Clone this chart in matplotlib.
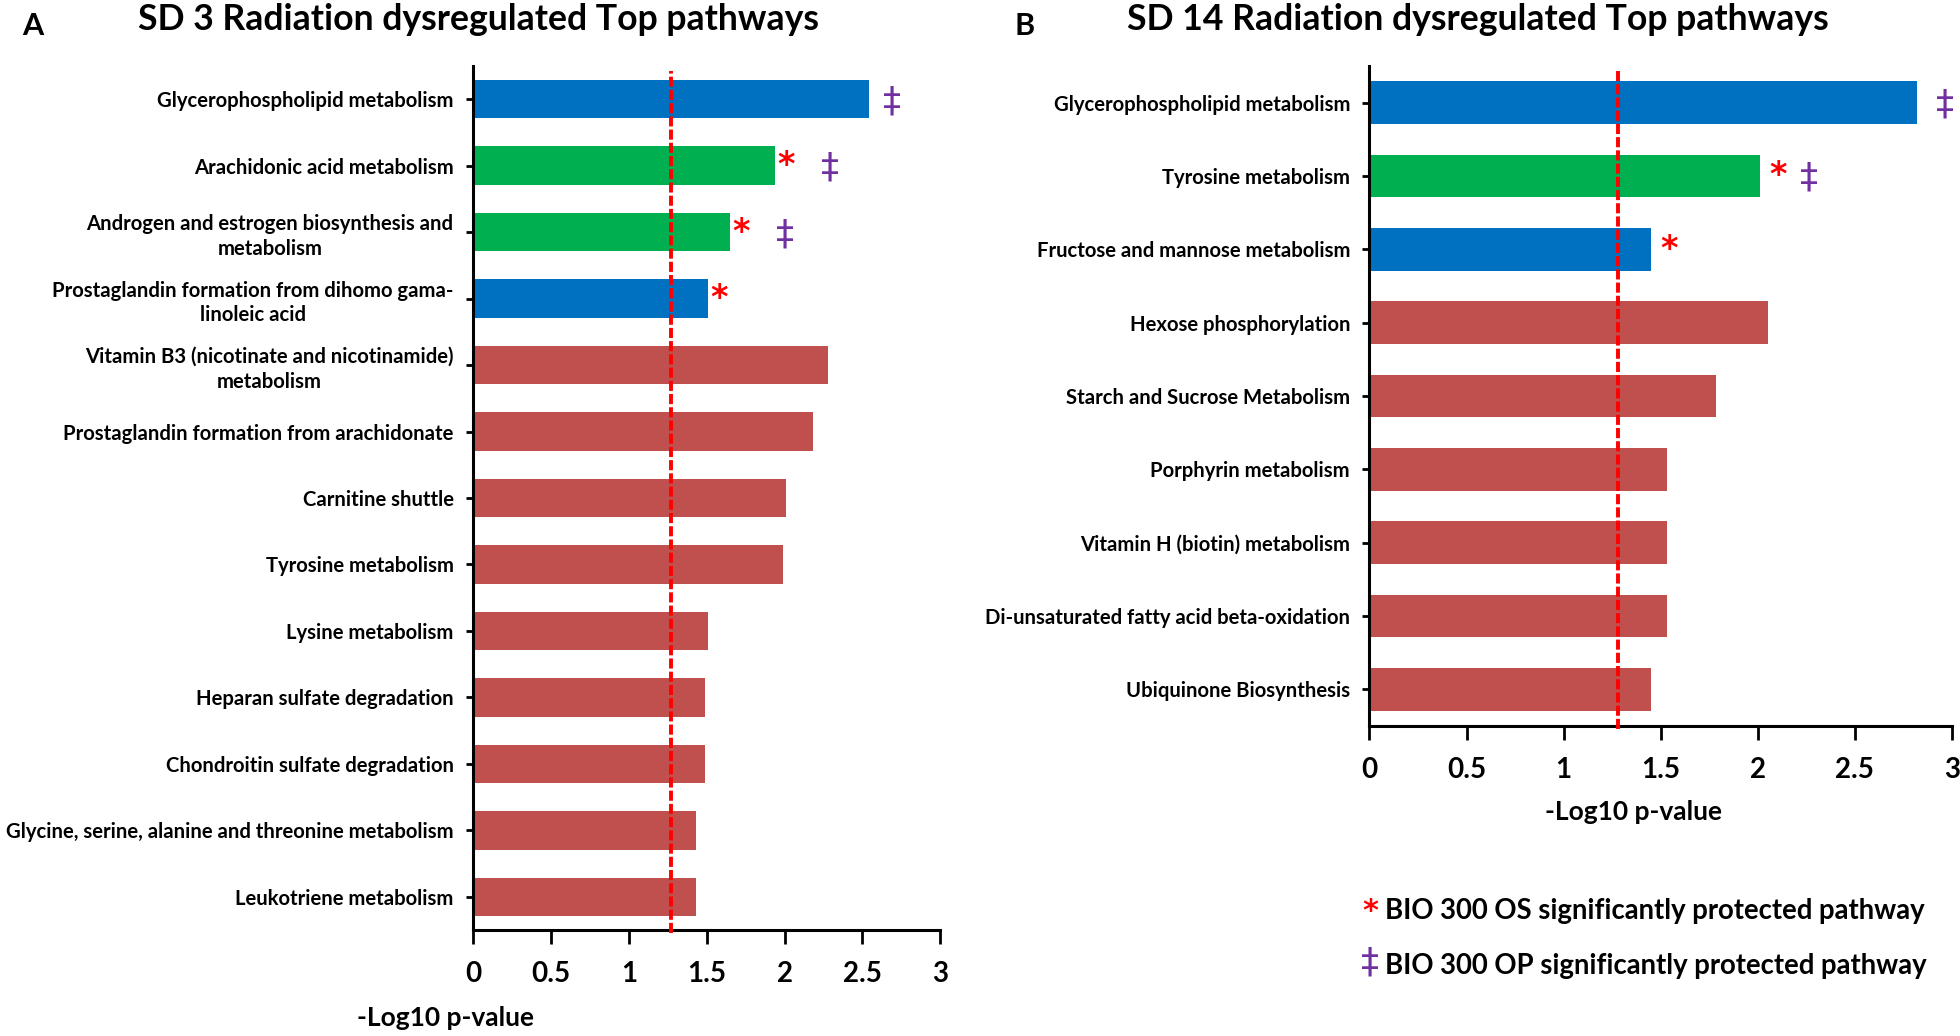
import numpy as np
import matplotlib
matplotlib.use('Agg')
import matplotlib.pyplot as plt

plt.rcParams['font.family'] = ['Lato', 'DejaVu Sans']
plt.rcParams['font.weight'] = 'bold'
plt.rcParams['axes.labelweight'] = 'bold'

# panel A: SD 3
sd3_pathways = ['Glycerophospholipid metabolism',
                'Arachidonic acid metabolism',
                'Androgen and estrogen biosynthesis and\nmetabolism',
                'Prostaglandin formation from dihomo gama-\nlinoleic acid',
                'Vitamin B3 (nicotinate and nicotinamide)\nmetabolism',
                'Prostaglandin formation from arachidonate',
                'Carnitine shuttle',
                'Tyrosine metabolism',
                'Lysine metabolism',
                'Heparan sulfate degradation',
                'Chondroitin sulfate degradation',
                'Glycine, serine, alanine and threonine metabolism',
                'Leukotriene metabolism']
sd3_values = [2.54, 1.94, 1.65, 1.51, 2.28, 2.18, 2.01, 1.99, 1.51, 1.49, 1.49, 1.43, 1.43]
sd3_os = [0, 1, 1, 1, 0, 0, 0, 0, 0, 0, 0, 0, 0]
sd3_op = [1, 1, 1, 0, 0, 0, 0, 0, 0, 0, 0, 0, 0]
sd3_cutoff = 1.27

# panel B: SD 14
sd14_pathways = ['Glycerophospholipid metabolism',
                 'Tyrosine metabolism',
                 'Fructose and mannose metabolism',
                 'Hexose phosphorylation',
                 'Starch and Sucrose Metabolism',
                 'Porphyrin metabolism',
                 'Vitamin H (biotin) metabolism',
                 'Di-unsaturated fatty acid beta-oxidation',
                 'Ubiquinone Biosynthesis']
sd14_values = [2.82, 2.01, 1.45, 2.05, 1.785, 1.53, 1.53, 1.53, 1.45]
sd14_os = [0, 1, 1, 0, 0, 0, 0, 0, 0]
sd14_op = [1, 1, 0, 0, 0, 0, 0, 0, 0]
sd14_cutoff = 1.28

x_ticks = [0, 0.5, 1, 1.5, 2, 2.5, 3]
x_tick_labels = ['0', '0.5', '1', '1.5', '2', '2.5', '3']

BLUE = '#0070C0'
GREEN = '#00B050'
BROWN = '#C0504D'
STAR_RED = '#FF0000'
PURPLE = '#7030A0'


def draw_panel(ax, names, values, os_flags, op_flags, cutoff, star_dx, dag_dx, dag_dx2):
    n = len(names)
    y = np.arange(n)
    colors = []
    for o, p in zip(os_flags, op_flags):
        if o and p:
            colors.append(GREEN)
        elif o or p:
            colors.append(BLUE)
        else:
            colors.append(BROWN)
    ax.barh(y, values, height=0.58, color=colors, zorder=2)
    ax.set_ylim(n - 0.5, -0.5)
    ax.set_xlim(0, 3)
    ax.set_yticks(y)
    ax.set_yticklabels(names, fontsize=14.6)
    for lbl in ax.get_yticklabels():
        lbl.set_multialignment('center')
        lbl.set_linespacing(1.3)
    ax.set_xticks(x_ticks)
    ax.set_xticklabels(x_tick_labels, fontsize=20)
    ax.tick_params(axis='y', length=5, width=2, pad=9)
    ax.tick_params(axis='x', length=10, width=2, pad=12)
    for s in ['top', 'right']:
        ax.spines[s].set_visible(False)
    for s in ['left', 'bottom']:
        ax.spines[s].set_linewidth(2.2)
    ax.axvline(cutoff, ymin=-0.004, ymax=0.994, color=STAR_RED, lw=2.8,
               linestyle=(0, (2.6, 0.8)), zorder=3, clip_on=False)
    for i in range(n):
        if os_flags[i]:
            ax.annotate('*', xy=(values[i], i), xytext=(star_dx, 0), textcoords='offset pixels',
                        ha='center', va='center', color=STAR_RED, fontsize=24,
                        family='DejaVu Sans', fontweight='bold')
        if op_flags[i]:
            dx = dag_dx2 if os_flags[i] else dag_dx
            ax.annotate('\u2021', xy=(values[i], i), xytext=(dx, -2), textcoords='offset pixels',
                        ha='center', va='center', color=PURPLE, fontsize=26,
                        family='DejaVu Sans', fontweight='normal')


fig = plt.figure(figsize=(19.6, 10.36), dpi=100)
axA = fig.add_axes([0.2413, 0.1023, 0.2385, 0.834])
axB = fig.add_axes([0.6987, 0.2992, 0.2972, 0.6371])

draw_panel(axA, sd3_pathways, sd3_values, sd3_os, sd3_op, sd3_cutoff, 11, 23, 55)
draw_panel(axB, sd14_pathways, sd14_values, sd14_os, sd14_op, sd14_cutoff, 18, 28, 49)

axA.set_xlabel('-Log10 p-value', fontsize=19)
axA.xaxis.label.set_va('center')
axA.xaxis.set_label_coords(-0.058, -0.102)
axB.set_xlabel('-Log10 p-value', fontsize=19)
axB.xaxis.label.set_va('center')
axB.xaxis.set_label_coords(0.4525, -0.13)

fig.text(478 / 1960, 1 - 20 / 1036, 'SD 3 Radiation dysregulated Top pathways',
         ha='center', va='center', fontsize=25.7)
fig.text(1478 / 1960, 1 - 20 / 1036, 'SD 14 Radiation dysregulated Top pathways',
         ha='center', va='center', fontsize=25.7)
fig.text(33 / 1960, 1 - 26 / 1036, 'A', ha='center', va='center', fontsize=22)
fig.text(1025 / 1960, 1 - 26 / 1036, 'B', ha='center', va='center', fontsize=22)

# legend
fig.text(1370 / 1960, 1 - 911 / 1036, '*', ha='center', va='center', color=STAR_RED,
         fontsize=22, family='DejaVu Sans', fontweight='bold')
fig.text(1385 / 1960, 1 - 911 / 1036, 'BIO 300 OS significantly protected pathway',
         ha='left', va='center', fontsize=19.8)
fig.text(1370 / 1960, 1 - 962 / 1036, '\u2021', ha='center', va='center', color=PURPLE,
         fontsize=26, family='DejaVu Sans', fontweight='normal')
fig.text(1385 / 1960, 1 - 966 / 1036, 'BIO 300 OP significantly protected pathway',
         ha='left', va='center', fontsize=19.8)

fig.savefig('out.png', dpi=100)
